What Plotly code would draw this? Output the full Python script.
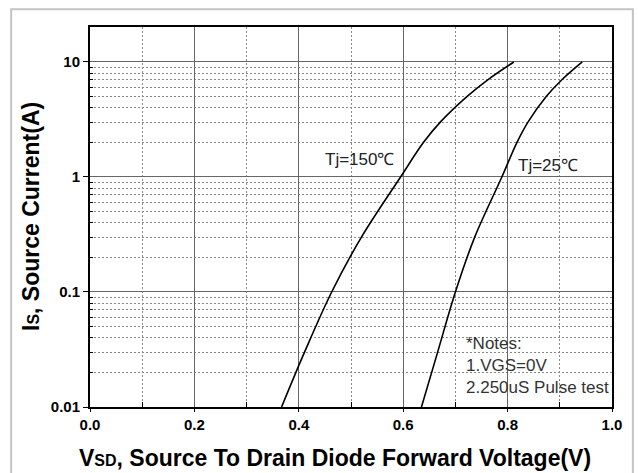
import plotly.graph_objects as go

# Data (Is in A, Vsd in V)
i_points = [0.01, 0.03, 0.1, 0.3, 1, 2, 3, 5, 7, 10]
v_150 = [0.367, 0.411, 0.463, 0.520, 0.595, 0.639, 0.671, 0.722, 0.762, 0.812]
v_25 = [0.635, 0.666, 0.700, 0.737, 0.789, 0.818, 0.839, 0.874, 0.904, 0.943]

x_ticks = [0.0, 0.2, 0.4, 0.6, 0.8, 1.0]
x_ticklabels = ["0.0", "0.2", "0.4", "0.6", "0.8", "1.0"]
x_minor = [0.1, 0.3, 0.5, 0.7, 0.9]
y_ticks = [0.01, 0.1, 1, 10]
y_ticklabels = ["0.01", "0.1", "1", "10"]
y_minor = [m * d for d in [0.01, 0.1, 1] for m in range(2, 10)]

label_150 = "Tj=150℃"
label_25 = "Tj=25℃"
notes = "*Notes:<br>1.VGS=0V<br>2.250uS Pulse test"
x_title = "V<span style='font-size:16px'>SD</span>, Source To Drain Diode Forward Voltage(V)"
y_title = "I<span style='font-size:16px'>S</span>, Source Current(A)"

FONT = "Liberation Sans, Arial, sans-serif"

fig = go.Figure()
fig.add_trace(go.Scatter(x=v_150, y=i_points, mode="lines",
                         line=dict(color="black", width=1.6, shape="spline", smoothing=1),
                         showlegend=False))
fig.add_trace(go.Scatter(x=v_25, y=i_points, mode="lines",
                         line=dict(color="black", width=1.6, shape="spline", smoothing=1),
                         showlegend=False))

fig.add_annotation(x=0.446, y=0.148, xref="x", yref="y", text=label_150, showarrow=False,
                   xanchor="left", yanchor="middle", font=dict(family=FONT, size=17, color="#222"))
fig.add_annotation(x=0.817, y=0.104, xref="x", yref="y", text=label_25, showarrow=False,
                   xanchor="left", yanchor="middle", font=dict(family=FONT, size=17, color="#222"))
fig.add_annotation(x=0.716, y=-1.641, xref="x", yref="y", text=notes, showarrow=False, align="left",
                   xanchor="left", yanchor="middle", font=dict(family=FONT, size=17, color="#333"))

# Axis titles
fig.add_annotation(x=0.469, y=-0.134, xref="paper", yref="paper", text=x_title, showarrow=False,
                   xanchor="center", yanchor="middle",
                   font=dict(family=FONT, size=23, color="black", weight="bold"))
fig.add_annotation(x=-0.113, y=0.5, xref="paper", yref="paper", text=y_title, showarrow=False,
                   textangle=-90, xanchor="center", yanchor="middle",
                   font=dict(family=FONT, size=23, color="black", weight="bold"))

fig.add_shape(type="rect", xref="paper", yref="paper", x0=-0.151, x1=1.040, y0=-0.3, y1=1.047,
              line=dict(color="#c4c4c4", width=2), fillcolor="rgba(0,0,0,0)", layer="below")

fig.update_layout(
    width=638, height=473,
    margin=dict(l=90, r=26, t=27, b=66),
    paper_bgcolor="white", plot_bgcolor="white",
    font=dict(family=FONT, color="black"),
    xaxis=dict(
        range=[0, 1], tickvals=x_ticks, ticktext=x_ticklabels, automargin=False,
        tickfont=dict(family=FONT, size=15, color="black", weight="bold"),
        showline=True, linecolor="black", linewidth=2, mirror=True,
        showgrid=True, gridcolor="#666", gridwidth=1,
        ticks="outside", ticklen=3, tickcolor="black",
        zeroline=False,
        minor=dict(tickvals=x_minor, showgrid=True, gridcolor="#888", griddash="2px,2px", gridwidth=1,
                   ticks="inside", ticklen=5, tickcolor="black"),
    ),
    yaxis=dict(
        type="log", range=[-2, 1.304], tickvals=y_ticks, ticktext=y_ticklabels, automargin=False,
        tickfont=dict(family=FONT, size=15, color="black", weight="bold"),
        showline=True, linecolor="black", linewidth=2, mirror=True,
        showgrid=True, gridcolor="#666", gridwidth=1,
        ticks="outside", ticklen=5, tickcolor="black",
        zeroline=False,
        minor=dict(tickvals=y_minor, showgrid=True, gridcolor="#888", griddash="2px,2px", gridwidth=1,
                   ticks="inside", ticklen=3, tickcolor="black"),
    ),
)

fig.write_html("out.html", config={"displayModeBar": False},
               post_script="document.body.style.margin='0';document.body.style.overflow='hidden';")
